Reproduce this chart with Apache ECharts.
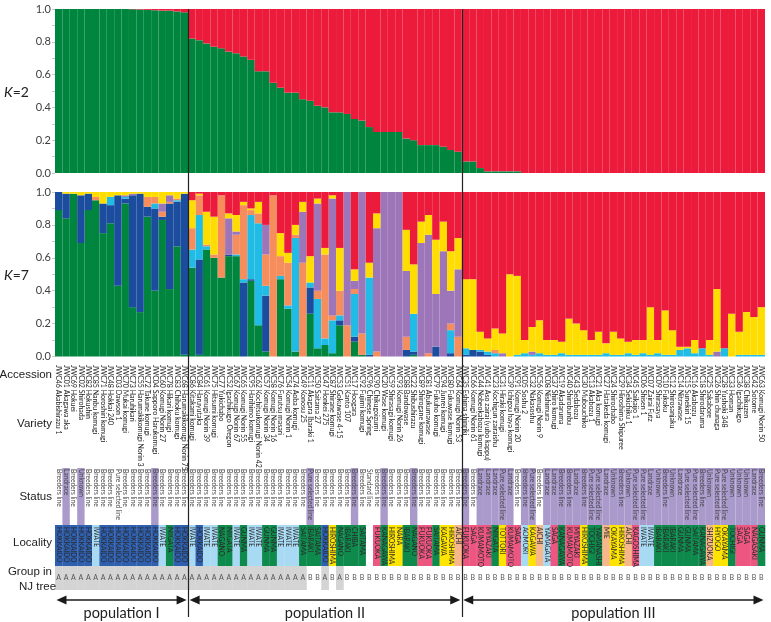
<!DOCTYPE html>
<html><head><meta charset="utf-8">
<script src="https://cdn.jsdelivr.net/npm/echarts@6/dist/echarts.min.js"></script>
<style>html,body{margin:0;padding:0;background:#fff}#c{width:771px;height:622px}</style>
</head><body><div id="c"></div>
<script>
const accessionIds = [
'JWC46','JWC01','JWC69','JWC02','JWC82','JWC85','JWC71','JWC48','JWC03','JWC70','JWC73','JWC55','JWC72','JWC04','JWC60','JWC78','JWC83','JWC68',
'JWC86','JWC84','JWC61','JWC75','JWC77','JWC52','JWC67','JWC65','JWC95','JWC62','JWC57','JWC58','JWC76','JWC54','JWC74','JWC49','JWC11','JWC50','JWC47','JWC87','JWC53','JWC51','JWC17','JWC92','JWC96','JWC90','JWC20','JWC59','JWC93','JWC88','JWC22','JWC89','JWC81','JWC79','JWC94','JWC80','JWC64',
'JWC35','JWC66','JWC44','JWC41','JWC23','JWC31','JWC39','JWC91','JWC05','JWC32','JWC56','JWC08','JWC37','JWC19','JWC40','JWC43','JWC30','JWC13','JWC21','JWC27','JWC24','JWC29','JWC34','JWC45','JWC06','JWC07','JWC09','JWC10','JWC12','JWC14','JWC15','JWC16','JWC18','JWC25','JWC26','JWC28','JWC33','JWC36','JWC38','JWC42','JWC63'];
const varietyNames = [
'Akabishirazu 1','Akagawa aka','Hokuei','Shirohada','Hokushin','Nanbu komugi','Horoshiri komugi','Hokkai 240','Dawson 1','Mukai komugi','Haruhikari','Harumakikomugi Norin 3','Takune komugi','Sapporo Harukomugi','Komugi Norin 27','Hikari komugi','Chihoku komugi','Harumakikomugi Norin 75',
'Kitakami komugi','Haruyutaka','Komugi Norin 39','Hitsumi komugi','Yukichabo','Igachikugo Oregon','Komugi Norin 67','Komugi Norin 55','Harihimo komugi','Kochitsukomugi Norin 42','Komugi Norin 34','Komugi Norin 16','Furutsu masari','Komugi Norin 1','Aoba komugi','Konosu 25','Akagara Ibaraki 1','Saitama 27','Honkei 275','Shirane komugi','Gokuwase 4-15','Kanto 107','Hoogara','Fujimi komugi','Chinese Spring','Chikugoizumi','Wase komugi','Shirasagi komugi','Komugi Norin 26','Bandowase','Shibushirazu','Shirogane komugi','Abukumawase','Fukuho komugi','Junrei komugi','Fukuwase komugi','Komugi Norin 53',
'Eshima shinriki','Komugi Norin 61','Nobeokabozu komugi','Aso zairai (yubo kappu)','Kochigun zairaishu','Hiraki komugi','Ichigou haya komugi','Komugi Norin 20','Soshu 2','Nakasoshu','Komugi Norin 9','Nishimura','Shiro komugi','Akadaruma','Shirobunbu','Sedabozu','Mubouchiko','Akabozu 1','Aka komugi','Hatakeda komugi','Shirochabo','Hiroshima Shipuree','Sekichiku 1','Saikaijo 1','Shisen 1','Zairai Futz','Shirasaya','Fukoku','Shirosanjaku','Nitrawase','Sunekiri 15','Akabozu','Shirodaruma','Sakabore','Shin chunaga','Yushoki 348','Homan','Igachikugo','Chikuzen','Sotome','Komugi Norin 50'];
const statuses = [
'Breeders line','Landrace','Breeders line','Unknown','Breeders line','Breeders line','Breeders line','Breeders line','Pure selected line','Breeders line','Breeders line','Breeders line','Breeders line','Breeders line','Breeders line','Breeders line','Breeders line','Breeders line',
'Breeders line','Breeders line','Breeders line','Breeders line','Breeders line','Breeders line','Breeders line','Breeders line','Breeders line','Breeders line','Breeders line','Breeders line','Breeders line','Breeders line','Breeders line','Breeders line','Pure selected line','Breeders line','Breeders line','Breeders line','Breeders line','Breeders line','Breeders line','Breeders line','Standard line','Breeders line','Breeders line','Breeders line','Breeders line','Breeders line','Breeders line','Breeders line','Breeders line','Breeders line','Breeders line','Breeders line','Breeders line',
'Breeders line','Breeders line','Landrace','Landrace','Landrace','Pure selected line','Landrace','Breeders line','Breeders line','Pure selected line','Breeders line','Landrace','Landrace','Breeders line','Breeders line','Landrace','Breeders line','Pure selected line','Pure selected line','Landrace','Unknown','Breeders line','Unknown','Pure selected line','Pure selected line','Landrace','Unknown','Breeders line','Unknown','Landrace','Pure selected line','Pure selected line','Breeders line','Unknown','Pure selected line','Pure selected line','Unknown','Unknown','Unknown','Landrace','Breeders line'];
const statusHighlighted = [
0,1,0,1,0,0,0,0,0,0,0,0,0,1,0,0,0,0,
0,0,0,0,0,0,0,0,0,0,0,0,0,0,0,0,1,0,0,0,0,0,1,0,0,0,1,0,0,0,1,0,0,0,0,0,0,
1,0,1,1,1,1,1,0,1,1,0,1,1,1,1,1,1,1,1,1,1,1,1,1,1,1,1,1,1,1,1,1,1,1,1,1,1,1,1,1,1];
const localities = [
'HOKKAIDO','HOKKAIDO','HOKKAIDO','HOKKAIDO','HOKKAIDO','IWATE','HOKKAIDO','HOKKAIDO','HOKKAIDO','HOKKAIDO','HOKKAIDO','HOKKAIDO','HOKKAIDO','HOKKAIDO','IWATE','NIIGATA','HOKKAIDO','HOKKAIDO',
'IWATE','HOKKAIDO','IWATE','IWATE','NAGANO','NIIGATA','IWATE','GUNMA','IWATE','IWATE','GUNMA','GUNMA','IWATE','IWATE','IWATE','SAITAMA','IBARAKI','SAITAMA','HOKKAIDO','HIROSHIMA','NAGANO','IBARAKI','CHIBA','SAITAMA','','FUKUOKA','KANAGAWA','HIROSHIMA','NARA','IBARAKI','NAGANO','FUKUOKA','FUKUOKA','SAITAMA','KAGAWA','HIROSHIMA','AICHI',
'FUKUOKA','SAGA','KUMAMOTO','MIYAZAKI','NIIGATA','TOTTORI','KUMAMOTO','SAGA','AOMORI','KAGAWA','AICHI','YAMAGATA','SAGA','KANAGAWA','KUMAMOTO','MIYAZAKI','HIROSHIMA','TOCHIGI','YAMANASHI','MIE','OKAYAMA','HIROSHIMA','AICHI','KAGOSHIMA','IWATE','IWATE','IBARAKI','IBARAKI','IBARAKI','GUNMA','GUNMA','SAITAMA','KANAGAWA','SHIZUOKA','HYOGO','OKAYAMA','TOCHIGI','SAGA','SAGA','NAGASAKI','GUNMA'];
const njGroups = [
'A','A','A','A','A','A','A','A','A','A','A','A','A','A','A','A','A','A',
'A','A','A','A','A','A','A','A','A','A','A','A','A','A','A','A','B','B','A','B','A','B','B','B','B','B','B','B','B','B','B','B','B','B','B','B','B',
'B','B','B','B','B','B','B','B','B','B','B','B','B','B','B','B','B','B','B','B','B','B','B','B','B','B','B','B','B','B','B','B','B','B','B','B','B','B','B','B','B'];
const populations = [['population I',0,17],['population II',18,54],['population III',55,95]];

const k2Cluster1 = [
1,1,1,1,1,1,1,1,1,1,.998,.997,.995,.993,.99,.99,.985,.98,
.82,.81,.79,.77,.76,.74,.73,.71,.69,.62,.62,.55,.52,.49,.49,.45,.44,.41,.40,.37,.37,.36,.33,.32,.28,.25,.25,.25,.25,.21,.20,.17,.17,.17,.16,.14,.13,
.07,.07,.03,.01,.01,.01,.01,.01,0,0,0,0,0,0,0,0,0,0,0,0,0,0,0,0,0,0,0,0,0,0,0,0,0,0,0,0,0,0,0,0,0];
const k2Cluster2 = [
0,0,0,0,0,0,0,0,0,0,.002,.003,.005,.007,.01,.01,.015,.02,
.18,.19,.21,.23,.24,.26,.27,.29,.31,.38,.38,.45,.48,.51,.51,.55,.56,.59,.60,.63,.63,.64,.67,.68,.72,.75,.75,.75,.75,.79,.80,.83,.83,.83,.84,.86,.87,
.93,.93,.97,.99,.99,.99,.99,.99,1,1,1,1,1,1,1,1,1,1,1,1,1,1,1,1,1,1,1,1,1,1,1,1,1,1,1,1,1,1,1,1,1];

const k7Green = [
.89,.84,.99,.69,.89,.95,.75,.81,.43,.93,.30,.27,.85,.40,.83,.41,.67,.01,
.54,.01,.65,.60,.48,.61,.61,0,.46,.19,.03,0,.47,.29,.03,0,.26,.05,.07,.02,.19,0,.09,.01,0,0,0,0,0,0,.01,0,0,0,0,0,0,
0,0,0,0,0,0,0,0,0,0,0,0,0,0,0,0,0,0,0,0,0,0,0,0,0,0,0,0,0,0,0,0,0,0,0,0,0,0,0,0,0];
const k7Blue = [
.11,.15,0,.29,.10,0,.18,.11,.55,.03,.68,.72,.06,.50,.02,.52,.27,.98,
0,.58,0,0,0,.01,0,.45,.01,0,.34,0,0,0,0,0,.16,0,0,0,.03,0,.03,0,.01,0,0,0,0,.04,.02,0,0,.06,0,.02,0,
.01,.04,.03,.01,0,0,0,0,0,0,0,0,0,0,0,0,0,0,0,0,0,0,0,0,0,0,0,0,0,0,0,0,0,0,0,0,0,0,0,0,0];
const k7Cyan = [
0,0,0,0,0,0,0,.05,0,.01,0,0,0,.03,0,0,.01,0,
.11,.27,.02,0,0,0,.01,.02,.39,.62,.06,0,.02,.02,.69,0,.03,.30,.04,.20,.03,0,.26,0,.47,0,0,0,0,0,.23,0,0,0,0,.14,0,
.04,0,.01,.02,.02,0,0,.01,.02,.01,.02,.01,.01,.02,.01,.01,.01,.01,.01,.02,.01,.01,.02,.01,.02,.01,.02,.01,.01,.04,.05,.02,.05,.01,0,.05,0,.01,.01,.01,.01];
const k7Orange = [
0,0,0,0,0,.02,0,0,0,0,0,0,.06,.04,.03,.01,.01,0,
.13,.12,.01,.02,.50,0,.12,.45,.03,.06,.19,.98,.12,.26,.02,.57,0,.05,.51,.03,.15,.19,.03,.13,0,.03,0,0,0,.08,0,0,.02,0,0,.04,.12,
0,0,0,0,.02,0,0,0,0,0,0,0,0,0,0,0,0,0,0,0,0,0,0,0,0,0,0,0,0,0,0,0,0,0,0,0,0,0,0,0,0];
const k7Purple = [
0,0,0,0,0,0,0,0,0,.01,.01,0,0,0,.05,.04,0,0,
0,0,0,0,0,.22,.02,0,0,0,.18,0,0,0,0,.31,0,.53,0,.71,0,.81,.05,.86,0,.75,1,1,1,.40,0,.69,.72,.32,.64,.20,.41,
0,0,0,0,0,.02,0,0,0,.02,0,0,0,0,0,0,0,0,0,0,0,0,0,0,0,0,0,0,0,0,0,0,0,0,.03,0,0,0,0,0,0];
const k7Yellow = [
0,.01,.01,.02,.01,.03,.07,.03,.02,.02,.01,.01,.03,.03,.07,.02,.04,.01,
.17,.01,.20,.23,0,.03,.10,.02,.01,.07,0,0,.14,.06,.06,.06,.16,.03,.04,.02,.26,0,.07,0,.09,.09,0,0,0,.25,.30,.13,.12,.33,.18,.24,.19,
.42,.43,.11,.08,.13,.12,.50,.48,.08,.15,.20,.09,.09,.07,.22,.19,.15,.09,.14,.06,.14,.10,.07,.09,.08,.29,.08,.27,.15,.02,.01,.08,0,.09,.38,0,.26,.14,.26,.23,.29];
const k7Red = [
0,0,0,0,0,0,0,0,0,0,0,0,0,0,0,0,0,0,
.05,.01,.12,.15,.02,.13,.14,.06,.10,.06,.20,.02,.25,.37,.20,.06,.39,.04,.34,.02,.34,0,.47,0,.43,.13,0,0,0,.23,.44,.18,.14,.29,.18,.36,.28,
.53,.53,.85,.89,.83,.86,.50,.51,.90,.82,.78,.90,.90,.91,.77,.80,.84,.90,.85,.92,.85,.89,.91,.90,.90,.70,.90,.72,.84,.94,.94,.90,.95,.90,.59,.95,.74,.85,.73,.76,.70];

const FONT = 'Lato, "Liberation Sans", sans-serif';
const NARROW = '"Liberation Sans Narrow", "Liberation Sans", sans-serif';
const C = {green:'#00853F', red:'#EC1B3B', blue:'#1B4C9E', cyan:'#20BCE6', orange:'#F58D5C', purple:'#9C76B8', yellow:'#FFDD00'};
const regionColor = {
  HOKKAIDO:'#2F60B0', IWATE:'#A8DAF4', AOMORI:'#A8DAF4', YAMAGATA:'#A8DAF4',
  NIIGATA:'#0D8A4C', NAGANO:'#0D8A4C', GUNMA:'#0D8A4C', SAITAMA:'#0D8A4C', IBARAKI:'#0D8A4C', CHIBA:'#0D8A4C', KANAGAWA:'#0D8A4C', TOCHIGI:'#0D8A4C', YAMANASHI:'#0D8A4C',
  AICHI:'#F8B78A', MIE:'#F8B78A', SHIZUOKA:'#F8B78A',
  HIROSHIMA:'#FFE400', NARA:'#FFE400', KAGAWA:'#FFE400', TOTTORI:'#FFE400', OKAYAMA:'#FFE400', HYOGO:'#FFE400',
  FUKUOKA:'#EC5681', SAGA:'#EC5681', KUMAMOTO:'#EC5681', MIYAZAKI:'#EC5681', KAGOSHIMA:'#EC5681', NAGASAKI:'#EC5681'
};

const idx = accessionIds.map((_, i) => i);
const L = 55, W = 710;
function yAxisCfg(gi){
  return {type:'value', gridIndex:gi, min:0, max:1, interval:0.2,
    axisLine:{show:false}, splitLine:{show:false},
    axisTick:{show:true, length:3, lineStyle:{color:'#c8c8c8'}},
    minorTick:{show:true, splitNumber:2, length:3, lineStyle:{color:'#c8c8c8'}},
    axisLabel:{fontFamily:FONT, fontSize:11, color:'#404040', margin:4, formatter:v=>v.toFixed(1)}};
}
function xAxisCfg(gi){
  return {type:'category', gridIndex:gi, data:idx, show:false, boundaryGap:true};
}
function stack(name, data, color, gi){
  return {type:'bar', name, data, xAxisIndex:gi, yAxisIndex:gi, stack:'s'+gi, barCategoryGap:'0%',
    itemStyle:{color}, silent:true, animation:false};
}
const series = [
  stack('k2a', k2Cluster1, C.green, 0), stack('k2b', k2Cluster2, C.red, 0),
  stack('g', k7Green, C.green, 1), stack('b', k7Blue, C.blue, 1), stack('c', k7Cyan, C.cyan, 1),
  stack('o', k7Orange, C.orange, 1), stack('p', k7Purple, C.purple, 1), stack('y', k7Yellow, C.yellow, 1), stack('r', k7Red, C.red, 1)
];
series.push({
  type:'custom', xAxisIndex:2, yAxisIndex:2, data:idx.map(i=>[i,0]), silent:true, animation:false, clip:false, z:1,
  renderItem:function(params, api){
    const i = api.value(0);
    const cx = api.coord([i, 0])[0];
    const w = api.size([1, 0])[0];
    const top = params.coordSys.y;
    const ch = [];
    const rot = -Math.PI/2;
    ch.push({type:'text', x:cx, y:top+8, rotation:rot, style:{text:accessionIds[i]+' '+varietyNames[i], fontFamily:FONT, fontSize:7, fill:'#222', align:'left', verticalAlign:'middle'}});
    if (statusHighlighted[i]) ch.push({type:'rect', shape:{x:cx-w/2, y:top+111, width:w, height:57}, style:{fill:'#A99ACB'}});
    ch.push({type:'text', x:cx, y:top+112, rotation:rot, style:{text:statuses[i], fontFamily:FONT, fontSize:6.6, fill:'#444', align:'left', verticalAlign:'middle'}});
    const loc = localities[i];
    if (loc) {
      ch.push({type:'rect', shape:{x:cx-w/2, y:top+168, width:w+0.3, height:41}, style:{fill:regionColor[loc]}});
      ch.push({type:'text', x:cx, y:top+170, rotation:rot, style:{text:loc, fontFamily:FONT, fontSize:6.6, fill:'#2a2a2a', align:'left', verticalAlign:'middle'}});
    }
    if (njGroups[i]==='A') ch.push({type:'rect', shape:{x:cx-w/2, y:top+209, width:w+0.3, height:24}, style:{fill:'#D4D4D4'}});
    ch.push({type:'text', x:cx, y:top+221, style:{text:njGroups[i], fontFamily:FONT, fontSize:7, fill:'#555', align:'center', verticalAlign:'middle'}});
    return {type:'group', children:ch};
  }
});
series.push({
  type:'custom', xAxisIndex:2, yAxisIndex:2, data:populations.map(p=>[p[1],p[2]]), silent:true, animation:false, clip:false,
  renderItem:function(params, api){
    const p = populations[params.dataIndex];
    const w = api.size([1,0])[0];
    const x0 = api.coord([p[1],0])[0]-w/2+1.5, x1 = api.coord([p[2],0])[0]+w/2-1.5;
    const y = params.coordSys.y + 243;
    const ah = 10, aw = 4.5;
    return {type:'group', children:[
      {type:'line', shape:{x1:x0+4, y1:y, x2:x1-4, y2:y}, style:{stroke:'#1a1a1a', lineWidth:1.6}},
      {type:'polygon', shape:{points:[[x0,y],[x0+ah,y-aw],[x0+ah,y+aw]]}, style:{fill:'#1a1a1a'}},
      {type:'polygon', shape:{points:[[x1,y],[x1-ah,y-aw],[x1-ah,y+aw]]}, style:{fill:'#1a1a1a'}},
      {type:'text', x:(x0+x1)/2, y:y+13, style:{text:p[0], fontFamily:FONT, fontSize:14.5, fill:'#222', align:'center', verticalAlign:'middle'}}
    ]};
  }
});

const chart = echarts.init(document.getElementById('c'), null, {renderer:'canvas'});
function rowLabel(t, y, leftAligned){
  return leftAligned
    ? {type:'text', x:19, y:y, z:200, style:{text:t, fontFamily:NARROW, fontSize:11.5, fill:'#222', align:'left', verticalAlign:'middle'}}
    : {type:'text', x:52, y:y, z:200, style:{text:t, fontFamily:NARROW, fontSize:11.5, fill:'#222', align:'right', verticalAlign:'middle'}};
}
const kLabel = (t, y) => ({type:'text', x:4, y:y, style:{text:'{i|K}='+t, rich:{i:{fontStyle:'italic', fontFamily:FONT, fontSize:14, fill:'#222'}}, fontFamily:FONT, fontSize:14, fill:'#222', verticalAlign:'middle'}});
const baseGraphic = [
  kLabel('2', 92), kLabel('7', 275),
  rowLabel('Accession', 375), rowLabel('Variety', 424), rowLabel('Status', 497), rowLabel('Locality', 543), rowLabel('Group in', 572), rowLabel('NJ tree', 587, true)
];
chart.setOption({
  animation:false,
  grid:[{left:L, width:W, top:9, height:164},{left:L, width:W, top:192, height:164.5},{left:L, width:W, top:357, height:265}],
  xAxis:[xAxisCfg(0), xAxisCfg(1), xAxisCfg(2)],
  yAxis:[yAxisCfg(0), yAxisCfg(1), {type:'value', gridIndex:2, min:0, max:1, show:false}],
  series,
  graphic: baseGraphic
});
const bw = chart.convertToPixel({xAxisIndex:0}, 1) - chart.convertToPixel({xAxisIndex:0}, 0);
const yTop = chart.convertToPixel({yAxisIndex:0}, 1);
const sep = populations.slice(0, -1).map(p => {
  const x = Math.round(chart.convertToPixel({xAxisIndex:0}, p[2]) + bw/2) + 0.5;
  return {type:'line', shape:{x1:x, y1:yTop, x2:x, y2:617}, style:{stroke:'#222', lineWidth:1.2}, z:100};
});
chart.setOption({graphic: baseGraphic.concat(sep)}, {replaceMerge:['graphic']});
</script></body></html>
